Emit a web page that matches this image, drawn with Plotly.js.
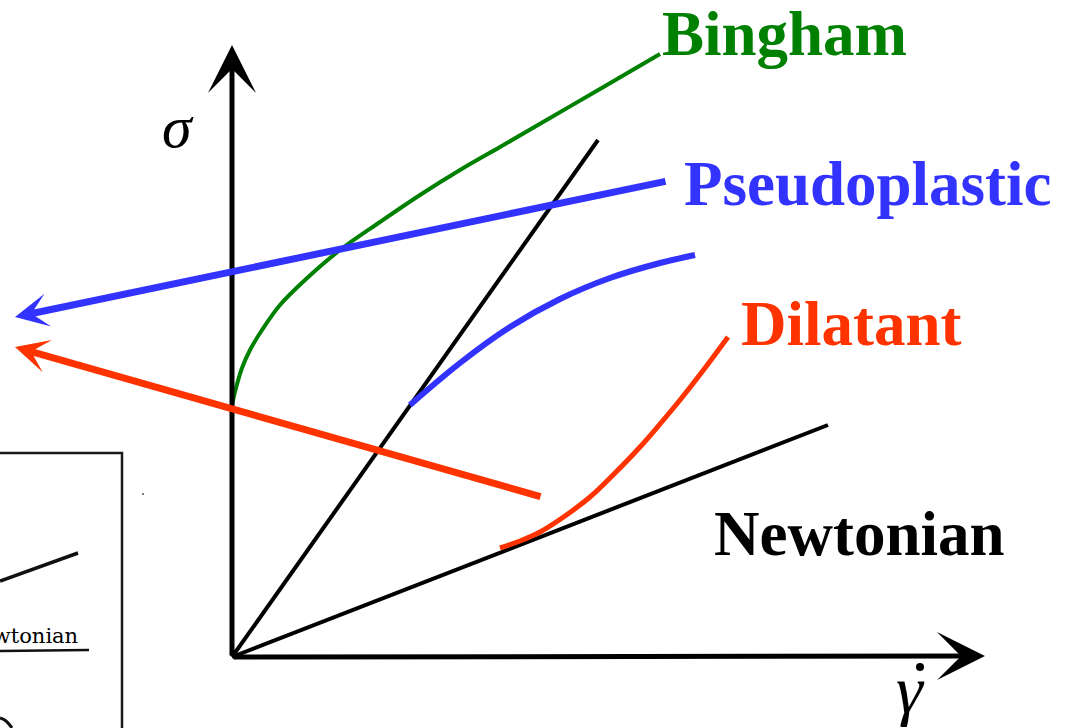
<!DOCTYPE html>
<html>
<head>
<meta charset="utf-8">
<script src="https://cdn.plot.ly/plotly-3.0.1.min.js"></script>
<style>html,body{margin:0;padding:0;background:#fff;}#chart{width:1072px;height:728px;}</style>
</head>
<body>
<div id="chart"></div>
<script>
// Schematic units: shear rate (x) and shear stress (y), origin at the axes' corner
var newtonSteepX = [0, 3.66];
var newtonSteepY = [0, 5.17];
var newtonShallowX = [0, 5.96];
var newtonShallowY = [0, 2.32];

var binghamX = [0, 0.04, 0.10, 0.18, 0.30, 0.48, 0.73, 1.08, 1.48, 1.88, 2.28, 2.68, 3.18, 3.68, 4.28];
var binghamY = [2.52, 2.69, 2.89, 3.07, 3.27, 3.52, 3.77, 4.07, 4.35, 4.62, 4.87, 5.10, 5.39, 5.68, 6.03];

var pseudoX = [1.78, 2.28, 2.78, 3.28, 3.78, 4.28, 4.63];
var pseudoY = [2.52, 2.94, 3.30, 3.58, 3.79, 3.94, 4.02];

var dilatantX = [2.68, 2.88, 3.08, 3.33, 3.58, 3.83, 4.08, 4.28, 4.48, 4.73, 4.96];
var dilatantY = [1.09, 1.16, 1.25, 1.41, 1.60, 1.84, 2.10, 2.33, 2.57, 2.89, 3.20];

// pointer arrows: [tailX, tailY, tipX, tipY]
var bluePointer = [4.35, 4.76, -2.17, 3.40];
var redPointer = [3.10, 1.60, -2.17, 3.10];
// axis arrow tips
var yAxisTip = [0, 6.12];
var xAxisTip = [7.53, 0.01];

// labels
var labelNames = ["Bingham", "Pseudoplastic", "Dilatant", "Newtonian"];
var labelX = [4.28, 4.50, 5.07, 4.80];
var labelY = [6.23, 4.73, 3.33, 1.23];

// axis symbols
var sigmaPos = [-0.54, 5.30];
var gammaPos = [6.78, -0.33];
var gammaDotX = [6.88];
var gammaDotY = [-0.10];

// scanned inset fragment (bottom-left)
var insetBoxX = [-2.32, -1.10, -1.10];
var insetBoxY = [2.04, 2.04, -0.71];
var insetLineX = [-2.32, -1.54];
var insetLineY = [0.76, 1.04];
var insetUnderX = [-2.32, -1.43];
var insetUnderY = [0.06, 0.07];
var insetArcX = [-2.32, -2.26, -2.20];
var insetArcY = [-0.61, -0.64, -0.71];
var insetDotX = [-0.89];
var insetDotY = [1.63];

var GREEN = 'rgb(0,128,0)';
var BLUE = 'rgb(51,51,255)';
var RED = 'rgb(255,51,0)';

var traces = [
  {x: newtonSteepX, y: newtonSteepY, mode: 'lines', line: {color: 'black', width: 4}},
  {x: newtonShallowX, y: newtonShallowY, mode: 'lines', line: {color: 'black', width: 4}},
  {x: binghamX, y: binghamY, mode: 'lines', line: {color: GREEN, width: 4, shape: 'spline', smoothing: 1}},
  {x: pseudoX, y: pseudoY, mode: 'lines', line: {color: BLUE, width: 6, shape: 'spline', smoothing: 1}},
  {x: dilatantX, y: dilatantY, mode: 'lines', line: {color: RED, width: 5, shape: 'spline', smoothing: 1}},
  {x: gammaDotX, y: gammaDotY, mode: 'markers', marker: {color: 'black', size: 8}},
  {x: insetBoxX, y: insetBoxY, mode: 'lines', line: {color: '#1a1a1a', width: 2.5}},
  {x: insetLineX, y: insetLineY, mode: 'lines', line: {color: '#111', width: 3.5}},
  {x: insetUnderX, y: insetUnderY, mode: 'lines', line: {color: '#111', width: 2.5}},
  {x: insetArcX, y: insetArcY, mode: 'lines', line: {color: '#111', width: 3, shape: 'spline'}},
  {x: insetDotX, y: insetDotY, mode: 'markers', marker: {color: '#555', size: 2}}
];

function arrowAnn(tipX, tipY, tailX, tailY, color, width, head, size) {
  return {x: tipX, y: tipY, ax: tailX, ay: tailY, xref: 'x', yref: 'y', axref: 'x', ayref: 'y',
    text: '', showarrow: true, arrowcolor: color, arrowwidth: width, arrowhead: head, arrowsize: size, standoff: 0};
}

var anns = [
  arrowAnn(yAxisTip[0], yAxisTip[1], 0, 0, 'black', 5, 3, 1.6),
  arrowAnn(xAxisTip[0], xAxisTip[1], 0, 0, 'black', 5, 3, 1.6),
  arrowAnn(bluePointer[2], bluePointer[3], bluePointer[0], bluePointer[1], BLUE, 7, 3, 0.8),
  arrowAnn(redPointer[2], redPointer[3], redPointer[0], redPointer[1], RED, 7, 3, 0.8)
];
var labelColors = [GREEN, BLUE, RED, 'black'];
for (var i = 0; i < labelNames.length; i++) {
  anns.push({x: labelX[i], y: labelY[i], xref: 'x', yref: 'y', text: '<b>' + labelNames[i] + '</b>',
    showarrow: false, xanchor: 'left', yanchor: 'middle',
    font: {family: 'Liberation Serif', size: 63, color: labelColors[i]}});
}
anns.push({x: sigmaPos[0], y: sigmaPos[1], xref: 'x', yref: 'y', text: '<i>σ</i>', showarrow: false,
  xanchor: 'center', yanchor: 'middle', font: {family: 'Liberation Serif', size: 60, color: 'black'}});
anns.push({x: gammaPos[0], y: gammaPos[1], xref: 'x', yref: 'y', text: '<i>γ</i>', showarrow: false,
  xanchor: 'center', yanchor: 'middle', font: {family: 'Liberation Serif', size: 68, color: 'black'}});
anns.push({x: -1.52, y: 0.21, xref: 'x', yref: 'y', text: 'Newtonian', showarrow: false,
  xanchor: 'right', yanchor: 'middle', font: {family: 'DejaVu Serif', size: 21, color: '#000'}});

var layout = {
  width: 1072, height: 728,
  margin: {l: 0, r: 0, t: 0, b: 0},
  paper_bgcolor: 'white', plot_bgcolor: 'white',
  showlegend: false,
  xaxis: {range: [-2.32, 8.40], visible: false, fixedrange: true},
  yaxis: {range: [-0.71, 6.57], visible: false, fixedrange: true},
  annotations: anns
};

Plotly.newPlot('chart', traces, layout, {displayModeBar: false, staticPlot: true});
</script>
</body>
</html>
